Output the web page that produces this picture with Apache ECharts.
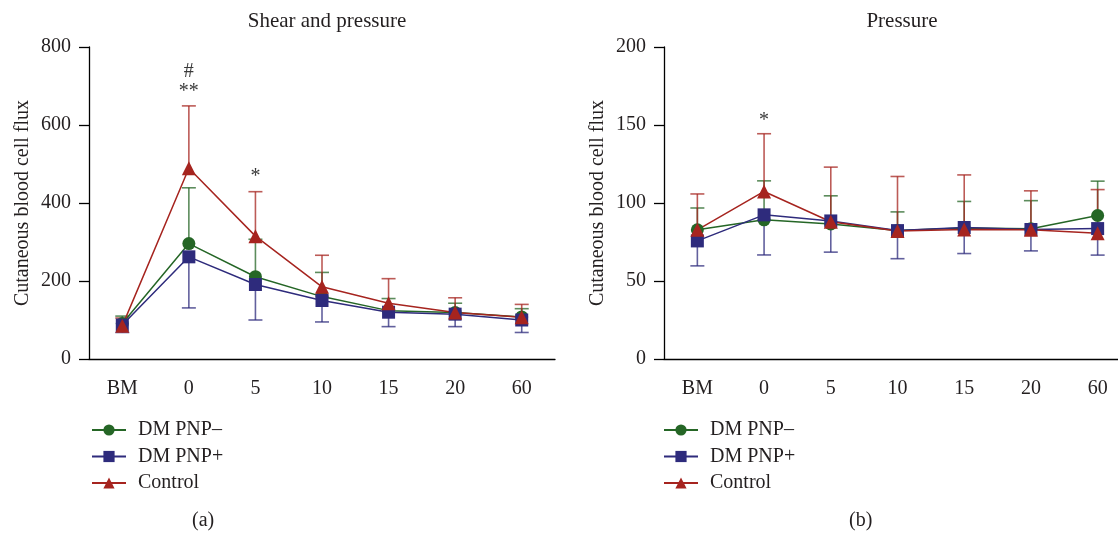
<!DOCTYPE html>
<html><head><meta charset="utf-8">
<script src="https://cdn.jsdelivr.net/npm/echarts@6/dist/echarts.min.js"></script>
<style>html,body{margin:0;padding:0;background:#fff;overflow:hidden}#c{width:1140px;height:533px}</style>
</head><body><div id="c"></div>
<script>
const categories = ['BM', '0', '5', '10', '15', '20', '60'];
const seriesNames = ['DM PNP\u2013', 'DM PNP+', 'Control'];

// Panel (a): Shear and pressure
const shearPNPneg = [91, 296, 211, 160, 124, 119, 108];
const shearPNPnegSD = [19, 143, 96, 62, 31, 24, 21];
const shearPNPpos = [87, 262, 191, 150, 120, 115, 100];
const shearPNPposSD = [19, 131, 91, 55, 37, 32, 32];
const shearControl = [85, 489, 315, 185, 143, 119, 107];
const shearControlSD = [20, 160, 114, 81, 63, 38, 33];

// Panel (b): Pressure
const pressPNPneg = [82.8, 89.2, 86.6, 82.3, 84, 83.5, 92];
const pressPNPnegSD = [14, 25, 18, 12, 17, 18, 22];
const pressPNPpos = [75.7, 92.4, 88.5, 82.3, 84.3, 83, 83.6];
const pressPNPposSD = [16, 25.7, 20, 18, 16.7, 13.7, 17];
const pressControl = [82.8, 107.4, 88, 82, 83, 82.8, 80.6];
const pressControlSD = [23, 37, 35, 35, 35, 25, 28];

const leftTicks = [0, 200, 400, 600, 800];
const rightTicks = [0, 50, 100, 150, 200];

// significance annotations
const annotA_cats = [1, 1, 2];
const annotA_vals = [736, 685, 467];
const annotA_text = ['#', '**', '*'];
const annotB_cats = [1];
const annotB_vals = [153];
const annotB_text = ['*'];

const colors = ['#256626', '#2e2b7c', '#a6241f'];
const barColors = ['rgba(37,102,38,0.75)', 'rgba(46,43,124,0.75)', 'rgba(166,36,31,0.75)'];
const symbols = ['circle', 'rect', 'triangle'];
const symbolSizes = [13, 13, 14];
const barDir = [1, -1, 1];
const FONT = '"Liberation Serif", "DejaVu Serif", serif';
const TXT = '#231f20';
const FS = 20;

const chart = echarts.init(document.getElementById('c'));

function errSeries(axisIdx, means, sds, k) {
  return {
    type: 'custom', xAxisIndex: axisIdx, yAxisIndex: axisIdx, z: 2, silent: true,
    data: means.map((m, i) => [i, m, sds[i]]),
    encode: {x: 0, y: 1},
    renderItem: function (params, api) {
      const i = api.value(0), m = api.value(1), e = api.value(2);
      const p0 = api.coord([i, m]);
      const p1 = api.coord([i, m + barDir[k] * e]);
      const st = {stroke: barColors[k], lineWidth: 1.6};
      return {type: 'group', children: [
        {type: 'line', shape: {x1: p0[0], y1: p0[1], x2: p1[0], y2: p1[1]}, style: st},
        {type: 'line', shape: {x1: p1[0] - 7, y1: p1[1], x2: p1[0] + 7, y2: p1[1]}, style: st}
      ]};
    }
  };
}
function lineSeries(axisIdx, means, k) {
  return {
    type: 'line', name: seriesNames[k], xAxisIndex: axisIdx, yAxisIndex: axisIdx, z: 3,
    data: means, symbol: symbols[k], symbolSize: symbolSizes[k],
    lineStyle: {color: colors[k], width: 1.5}, itemStyle: {color: colors[k]},
    emphasis: {disabled: true}, animation: false
  };
}
function annotSeries(axisIdx, cats, vals, texts) {
  return {
    type: 'custom', xAxisIndex: axisIdx, yAxisIndex: axisIdx, z: 4, silent: true,
    data: cats.map((c, i) => [c, vals[i]]), encode: {x: 0, y: 1},
    renderItem: function (params, api) {
      const p = api.coord([api.value(0), api.value(1)]);
      return {type: 'text', x: p[0], y: p[1], style: {text: texts[params.dataIndex], fill: '#3a3a3a',
        font: '20px ' + FONT, align: 'center', verticalAlign: 'middle'}};
    }
  };
}

const axisLineStyle = {color: '#000', width: 1.3};
function xAx(gi) {
  return {type: 'category', gridIndex: gi, data: categories, boundaryGap: true,
    axisLine: {lineStyle: axisLineStyle}, axisTick: {alignWithLabel: true, length: 10, lineStyle: axisLineStyle},
    axisLabel: {color: TXT, fontFamily: FONT, fontSize: FS, margin: 20}, splitLine: {show: false}};
}
function yAx(gi, ticks) {
  return {type: 'value', gridIndex: gi, min: ticks[0], max: ticks[ticks.length - 1],
    interval: ticks[1] - ticks[0], name: 'Cutaneous blood cell flux', nameLocation: 'middle', nameGap: 56,
    nameTextStyle: {color: TXT, fontFamily: FONT, fontSize: FS},
    axisLine: {show: true, lineStyle: axisLineStyle}, axisTick: {show: true, length: 10, lineStyle: axisLineStyle},
    axisLabel: {color: TXT, fontFamily: FONT, fontSize: FS, margin: 18}, splitLine: {show: false}};
}
function legend(left) {
  return {left: left, top: 420, padding: 0, orient: 'vertical', itemWidth: 34, itemHeight: 14, itemGap: 6.5,
    data: seriesNames, selectedMode: false,
    textStyle: {color: TXT, fontFamily: FONT, fontSize: FS, padding: [0, 0, 0, 7]}};
}

chart.setOption({
  animation: false,
  title: [
    {text: 'Shear and pressure', left: 322, top: 6, textAlign: 'center',
      textStyle: {color: TXT, fontFamily: FONT, fontSize: 21, fontWeight: 'normal'}},
    {text: 'Pressure', left: 897, top: 6, textAlign: 'center',
      textStyle: {color: TXT, fontFamily: FONT, fontSize: 21, fontWeight: 'normal'}}
  ],
  legend: [legend(91), legend(663)],
  grid: [
    {left: 89, width: 466, top: 47, bottom: 174},
    {left: 664, width: 467, top: 47, bottom: 174}
  ],
  xAxis: [xAx(0), xAx(1)],
  yAxis: [yAx(0, leftTicks), yAx(1, rightTicks)],
  graphic: [
    {type: 'text', left: 192, top: 511, style: {text: '(a)', fill: TXT, font: '20px ' + FONT}},
    {type: 'text', left: 849, top: 511, style: {text: '(b)', fill: TXT, font: '20px ' + FONT}}
  ],
  series: [
    errSeries(0, shearPNPneg, shearPNPnegSD, 0),
    errSeries(0, shearPNPpos, shearPNPposSD, 1),
    errSeries(0, shearControl, shearControlSD, 2),
    lineSeries(0, shearPNPneg, 0),
    lineSeries(0, shearPNPpos, 1),
    lineSeries(0, shearControl, 2),
    annotSeries(0, annotA_cats, annotA_vals, annotA_text),
    errSeries(1, pressPNPneg, pressPNPnegSD, 0),
    errSeries(1, pressPNPpos, pressPNPposSD, 1),
    errSeries(1, pressControl, pressControlSD, 2),
    lineSeries(1, pressPNPneg, 0),
    lineSeries(1, pressPNPpos, 1),
    lineSeries(1, pressControl, 2),
    annotSeries(1, annotB_cats, annotB_vals, annotB_text)
  ]
});
</script></body></html>
